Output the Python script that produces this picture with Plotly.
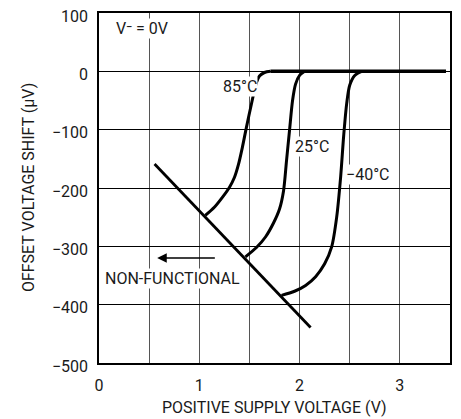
import plotly.graph_objects as go

# Data
v85 = [1.06, 1.15, 1.23, 1.30, 1.35, 1.39, 1.43, 1.47, 1.52, 1.57, 1.60, 1.65, 1.71]
s85 = [-247, -233, -216, -199, -182, -160, -130, -96, -56, -19, -8, -2, 0]

v25 = [1.46, 1.57, 1.66, 1.74, 1.80, 1.84, 1.87, 1.90, 1.93, 1.96, 2.00, 2.05]
s25 = [-318, -302, -284, -260, -236, -205, -153, -101, -50, -22, -7, 0]

vm40 = [1.82, 1.95, 2.06, 2.16, 2.25, 2.32, 2.37, 2.41, 2.44, 2.47, 2.50, 2.55, 2.62]
sm40 = [-384, -377, -367, -352, -330, -301, -250, -180, -110, -55, -24, -7, 0]

v_flat = [1.71, 3.46]
s_flat = [0, 0]

v_limit = [0.554, 2.11]
s_limit = [-159, -439]

arrow_x = [1.17, 0.58]
arrow_y = [-320, -320]

x_ticks = [0, 1, 2, 3]
y_ticks = [100, 0, -100, -200, -300, -400, -500]
y_tick_text = ["100", "0", "\u2212100", "\u2212200", "\u2212300", "\u2212400", "\u2212500"]

FONT = "Roboto, Liberation Sans, sans-serif"
TXT = "#1a1a1a"
FS = 16

fig = go.Figure()
line_style = dict(color="black", width=3, shape="spline", smoothing=0.8)
fig.add_trace(go.Scatter(x=v85, y=s85, mode="lines", line=line_style, hoverinfo="skip"))
fig.add_trace(go.Scatter(x=v25, y=s25, mode="lines", line=line_style, hoverinfo="skip"))
fig.add_trace(go.Scatter(x=vm40, y=sm40, mode="lines", line=line_style, hoverinfo="skip"))
fig.add_trace(go.Scatter(x=v_flat, y=s_flat, mode="lines", line=dict(color="black", width=3.5), hoverinfo="skip"))
fig.add_trace(go.Scatter(x=v_limit, y=s_limit, mode="lines", line=dict(color="black", width=2.8), hoverinfo="skip"))

fig.add_annotation(x=arrow_x[1], y=arrow_y[1], ax=arrow_x[0], ay=arrow_y[0],
                   xref="x", yref="y", axref="x", ayref="y", text="",
                   showarrow=True, arrowhead=2, arrowsize=1.2, arrowwidth=1.6, arrowcolor="black")

labels = [
    (0.16, 73, "V\u207b = 0V", "left"),
    (1.585, -26, "85\u00b0C", "right"),
    (1.94, -128, "25\u00b0C", "left"),
    (2.45, -177, "\u221240\u00b0C", "left"),
    (0.045, -355, "NON-FUNCTIONAL", "left"),
]
for x, y, t, anc in labels:
    fig.add_annotation(x=x, y=y, text=t, showarrow=False, xanchor=anc, yanchor="middle",
                       xref="x", yref="y", font=dict(family=FONT, size=FS, color=TXT),
                       bgcolor="white", borderpad=0)

# axis titles
fig.add_annotation(x=0.5, y=-0.128, xref="paper", yref="paper", text="POSITIVE SUPPLY VOLTAGE (V)",
                   showarrow=False, xanchor="center", yanchor="middle",
                   font=dict(family=FONT, size=FS, color=TXT))
fig.add_annotation(x=-0.202, y=0.5, xref="paper", yref="paper", text="OFFSET VOLTAGE SHIFT (\u03bcV)",
                   showarrow=False, xanchor="center", yanchor="middle", textangle=-90,
                   font=dict(family=FONT, size=FS, color=TXT))

# page body has an 8px margin, so the figure is sized/offset to compensate
fig.update_layout(
    width=453, height=411,
    margin=dict(l=91, r=11, t=5, b=56, autoexpand=False),
    paper_bgcolor="white", plot_bgcolor="white",
    showlegend=False,
    font=dict(family=FONT, size=FS, color=TXT),
)
fig.update_xaxes(
    range=[0, 3.5], tickvals=x_ticks, ticktext=[str(t) for t in x_ticks],
    showgrid=False, automargin=False, ticklabeloverflow="allow",
    showline=True, linecolor="black", linewidth=1.5, mirror=True,
    ticks="outside", ticklen=7, tickcolor="rgba(0,0,0,0)",
    zeroline=False,
    minor=dict(dtick=0.5, tick0=0, showgrid=True, gridcolor="#555555", gridwidth=1, ticks=""),
)
fig.update_yaxes(
    range=[-500, 100], tickvals=y_ticks, ticktext=y_tick_text,
    showgrid=True, gridcolor="black", gridwidth=1, automargin=False, ticklabeloverflow="allow",
    ticklabelshift=3,
    showline=True, linecolor="black", linewidth=1.5, mirror=True,
    ticks="outside", ticklen=6, tickcolor="rgba(0,0,0,0)",
    zeroline=False,
)

fig.write_html("out.html")
